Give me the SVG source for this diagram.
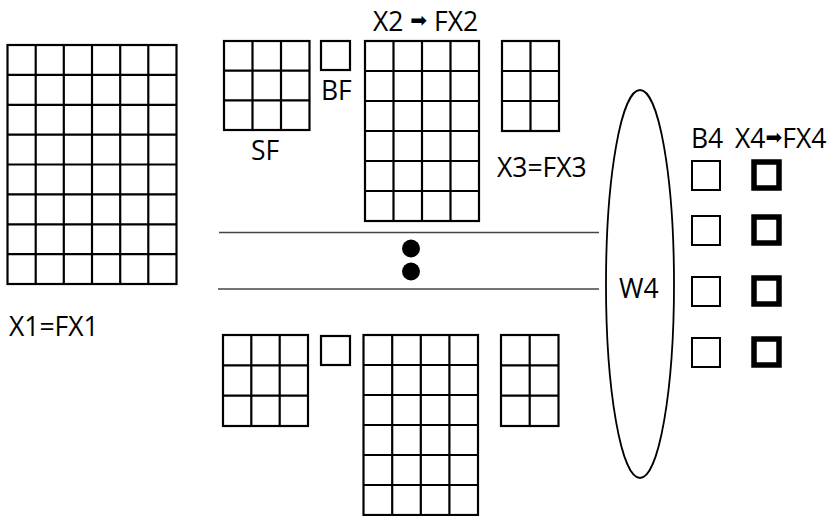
<svg xmlns="http://www.w3.org/2000/svg" width="833" height="516" viewBox="0 0 833 516">
<style>
.g{fill:none;stroke:#000;stroke-width:2.2}
.b4{fill:none;stroke:#000;stroke-width:2}
.x4{fill:none;stroke:#000;stroke-width:5.5}
.t{font-family:"Open Sans","Noto Sans",sans-serif;font-size:26.5px;fill:#000}
.ar{font-family:"DejaVu Sans",sans-serif;font-size:20px}
</style>
<rect width="833" height="516" fill="#fff"/>
<g id="X1">
<rect class="g" x="7.5" y="45" width="169" height="239"/>
<path class="g" d="M35.7 45V284M63.8 45V284M92 45V284M120.2 45V284M148.3 45V284M7.5 74.9H176.5M7.5 104.8H176.5M7.5 134.6H176.5M7.5 164.5H176.5M7.5 194.4H176.5M7.5 224.3H176.5M7.5 254.1H176.5"/>
<text class="t" x="9" y="336">X1=FX1</text>
</g>
<g id="SF-top">
<rect class="g" x="224" y="41" width="85.5" height="89"/>
<path class="g" d="M252.5 41V130M281 41V130M224 70.7H309.5M224 100.3H309.5"/>
<text class="t" x="251" y="160">SF</text>
</g>
<g id="BF-top">
<rect class="g" x="321" y="41" width="29" height="29"/>
<text class="t" x="321" y="100">BF</text>
</g>
<g id="X2-top">
<rect class="g" x="365" y="41" width="114" height="180"/>
<path class="g" d="M393.5 41V221M422 41V221M450.5 41V221M365 71H479M365 101H479M365 131H479M365 161H479M365 191H479"/>
<text class="t" x="373" y="31">X2 <tspan class="ar" baseline-shift="4">➡</tspan> FX2</text>
</g>
<g id="X3-top">
<rect class="g" x="502" y="41" width="57" height="90"/>
<path class="g" d="M530.5 41V131M502 71H559M502 101H559"/>
<text class="t" x="497" y="177">X3=FX3</text>
</g>
<g id="SF-bottom">
<rect class="g" x="223" y="335" width="85" height="91"/>
<path class="g" d="M251.3 335V426M279.7 335V426M223 365.3H308M223 395.7H308"/>
</g>
<g id="BF-bottom">
<rect class="g" x="321" y="336" width="29" height="29"/>
</g>
<g id="X2-bottom">
<rect class="g" x="363.5" y="335" width="114.5" height="180"/>
<path class="g" d="M392.2 335V515M420.8 335V515M449.4 335V515M363.5 365H478M363.5 395H478M363.5 425H478M363.5 455H478M363.5 485H478"/>
</g>
<g id="X3-bottom">
<rect class="g" x="501" y="335" width="57.5" height="91"/>
<path class="g" d="M529.7 335V426M501 365.3H558.5M501 395.7H558.5"/>
</g>
<g id="ellipsis">
<line x1="219" y1="232.5" x2="599" y2="232.5" stroke="#444" stroke-width="1.3"/>
<line x1="218" y1="289" x2="599" y2="289" stroke="#444" stroke-width="1.3"/>
<circle cx="411" cy="248.5" r="9" fill="#000"/>
<circle cx="411" cy="271.5" r="9" fill="#000"/>
</g>
<g id="W4">
<ellipse cx="640" cy="284" rx="34" ry="194" fill="none" stroke="#000" stroke-width="1.8"/>
<text class="t" x="619" y="298">W4</text>
</g>
<g id="B4">
<text class="t" x="691" y="148">B4</text>
<rect class="b4" x="692" y="161" width="28" height="29"/>
<rect class="b4" x="692" y="216" width="28" height="29"/>
<rect class="b4" x="692" y="277" width="28" height="29"/>
<rect class="b4" x="692" y="338" width="28" height="29"/>
</g>
<g id="X4">
<text class="t" x="735" y="148">X4<tspan class="ar" baseline-shift="4">➡</tspan>FX4</text>
<rect class="x4" x="754" y="162" width="25" height="26"/>
<rect class="x4" x="754" y="217" width="25" height="26"/>
<rect class="x4" x="754" y="278" width="25" height="26"/>
<rect class="x4" x="754" y="339" width="25" height="26"/>
</g>
</svg>
